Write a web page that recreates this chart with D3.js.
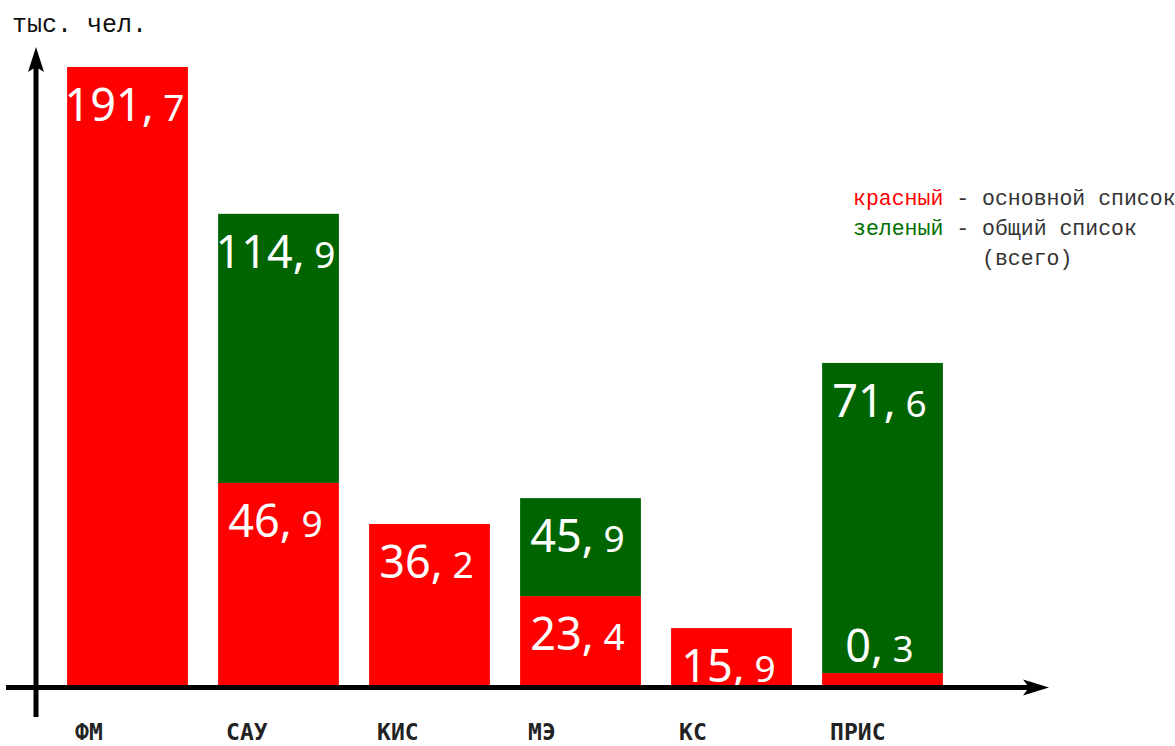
<!DOCTYPE html>
<html>
<head>
<meta charset="utf-8">
<script src="https://cdn.jsdelivr.net/npm/d3@7/dist/d3.min.js"></script>
<style>
    body { margin: 0; background: #fff; }
</style>
</head>
<body>
<div id="chart"></div>
<script>
// categories on the x axis
let categories = ["ФМ", "САУ", "КИС", "МЭ", "КС", "ПРИС"];

// printed numbers (тыс. чел.)
let redLabels   = ["191,7", "46,9", "36,2", "23,4", "15,9", "0,3"];
let greenLabels = [null, "114,9", null, "45,9", null, "71,6"];

// drawn height of each segment (the original is not to scale)
let redHeights   = [191.7, 63.1, 50.4, 28.1, 18.2, 4.3];
let greenHeights = [0, 83.2, 0, 30.3, 0, 95.9];

let unitLabel = "тыс. чел.";
let legendKeys = ["красный", "зеленый", ""];
let legendText = [" - основной список", " - общий список", "          (всего)"];
let legendColors = ["#ff0000", "#007000", "#333"];

let width = 1175, height = 746;
let baseY = 687;

let svg = d3.select("#chart").append("svg")
    .attr("width", width)
    .attr("height", height);

let x = d3.scaleBand()
    .domain(categories)
    .range([52, 958])
    .paddingInner(0.2)
    .paddingOuter(0.1);

let y = d3.scaleLinear()
    .domain([0, 191.7])
    .range([baseY, 67]);

let data = categories.map(function(c, i) {
    return {
        cat: c,
        red: redHeights[i],
        green: greenHeights[i],
        redLabel: redLabels[i],
        greenLabel: greenLabels[i]
    };
});

// red segments
svg.selectAll(".red")
    .data(data)
    .enter().append("rect")
    .attr("class", "red")
    .attr("x", d => x(d.cat))
    .attr("y", d => y(d.red))
    .attr("width", x.bandwidth())
    .attr("height", d => y(0) - y(d.red))
    .attr("fill", "#ff0000");

// green segments on top
svg.selectAll(".green")
    .data(data.filter(d => d.green > 0))
    .enter().append("rect")
    .attr("class", "green")
    .attr("x", d => x(d.cat))
    .attr("y", d => y(d.red + d.green))
    .attr("width", x.bandwidth())
    .attr("height", d => y(d.red) - y(d.red + d.green))
    .attr("fill", "#006400");

function addValue(sel, label) {
    let parts = label.split(",");
    sel.append("tspan").attr("font-size", 45).text(parts[0] + ",");
    sel.append("tspan").attr("font-size", 37).text(" " + parts[1]);
}

// labels
data.forEach(function(d) {
    let cx = x(d.cat) + x.bandwidth() / 2 - 3;
    let redTop = y(d.red);
    let ly = (y(0) - redTop) < 40 ? redTop - 11 : redTop + 54;
    let t = svg.append("text")
        .attr("x", cx)
        .attr("y", ly)
        .attr("text-anchor", "middle")
        .attr("fill", "#fff")
        .attr("font-family", "'Noto Sans', sans-serif")
        .style("white-space", "pre");
    addValue(t, d.redLabel);

    if (d.greenLabel) {
        let g = svg.append("text")
            .attr("x", cx)
            .attr("y", y(d.red + d.green) + 54)
            .attr("text-anchor", "middle")
            .attr("fill", "#fff")
            .attr("font-family", "'Noto Sans', sans-serif")
            .style("white-space", "pre");
        addValue(g, d.greenLabel);
    }
});

// category names
svg.selectAll(".cat")
    .data(categories)
    .enter().append("text")
    .attr("class", "cat")
    .attr("x", d => x(d) + 8)
    .attr("y", 740)
    .attr("font-family", "'DejaVu Sans Mono', monospace")
    .attr("font-weight", "bold")
    .attr("font-size", 23)
    .attr("fill", "#222")
    .text(d => d);

// axes with arrows
svg.append("line")
    .attr("x1", 36).attr("x2", 36)
    .attr("y1", 717).attr("y2", 62)
    .attr("stroke", "#000")
    .attr("stroke-width", 5);
svg.append("path")
    .attr("d", "M36,47 L44,72 L36,67 L28,72 Z")
    .attr("fill", "#000");

svg.append("line")
    .attr("x1", 6).attr("x2", 1035)
    .attr("y1", baseY + 0.5).attr("y2", baseY + 0.5)
    .attr("stroke", "#000")
    .attr("stroke-width", 5);
svg.append("path")
    .attr("d", `M1049,${baseY + 0.5} L1023,${baseY - 7.5} L1029,${baseY + 0.5} L1023,${baseY + 8.5} Z`)
    .attr("fill", "#000");

// unit
svg.append("text")
    .attr("x", 12)
    .attr("y", 32)
    .attr("font-family", "'Liberation Mono', monospace")
    .attr("font-size", 25)
    .attr("fill", "#111")
    .text(unitLabel);

// legend
legendKeys.forEach(function(k, i) {
    let t = svg.append("text")
        .attr("x", 853)
        .attr("y", 205 + i * 30)
        .attr("font-family", "'Liberation Mono', monospace")
        .attr("font-size", 21.5)
        .style("white-space", "pre");
    t.append("tspan").attr("fill", legendColors[i]).text(k);
    t.append("tspan").attr("fill", "#333").text(legendText[i]);
});
</script>
</body>
</html>
